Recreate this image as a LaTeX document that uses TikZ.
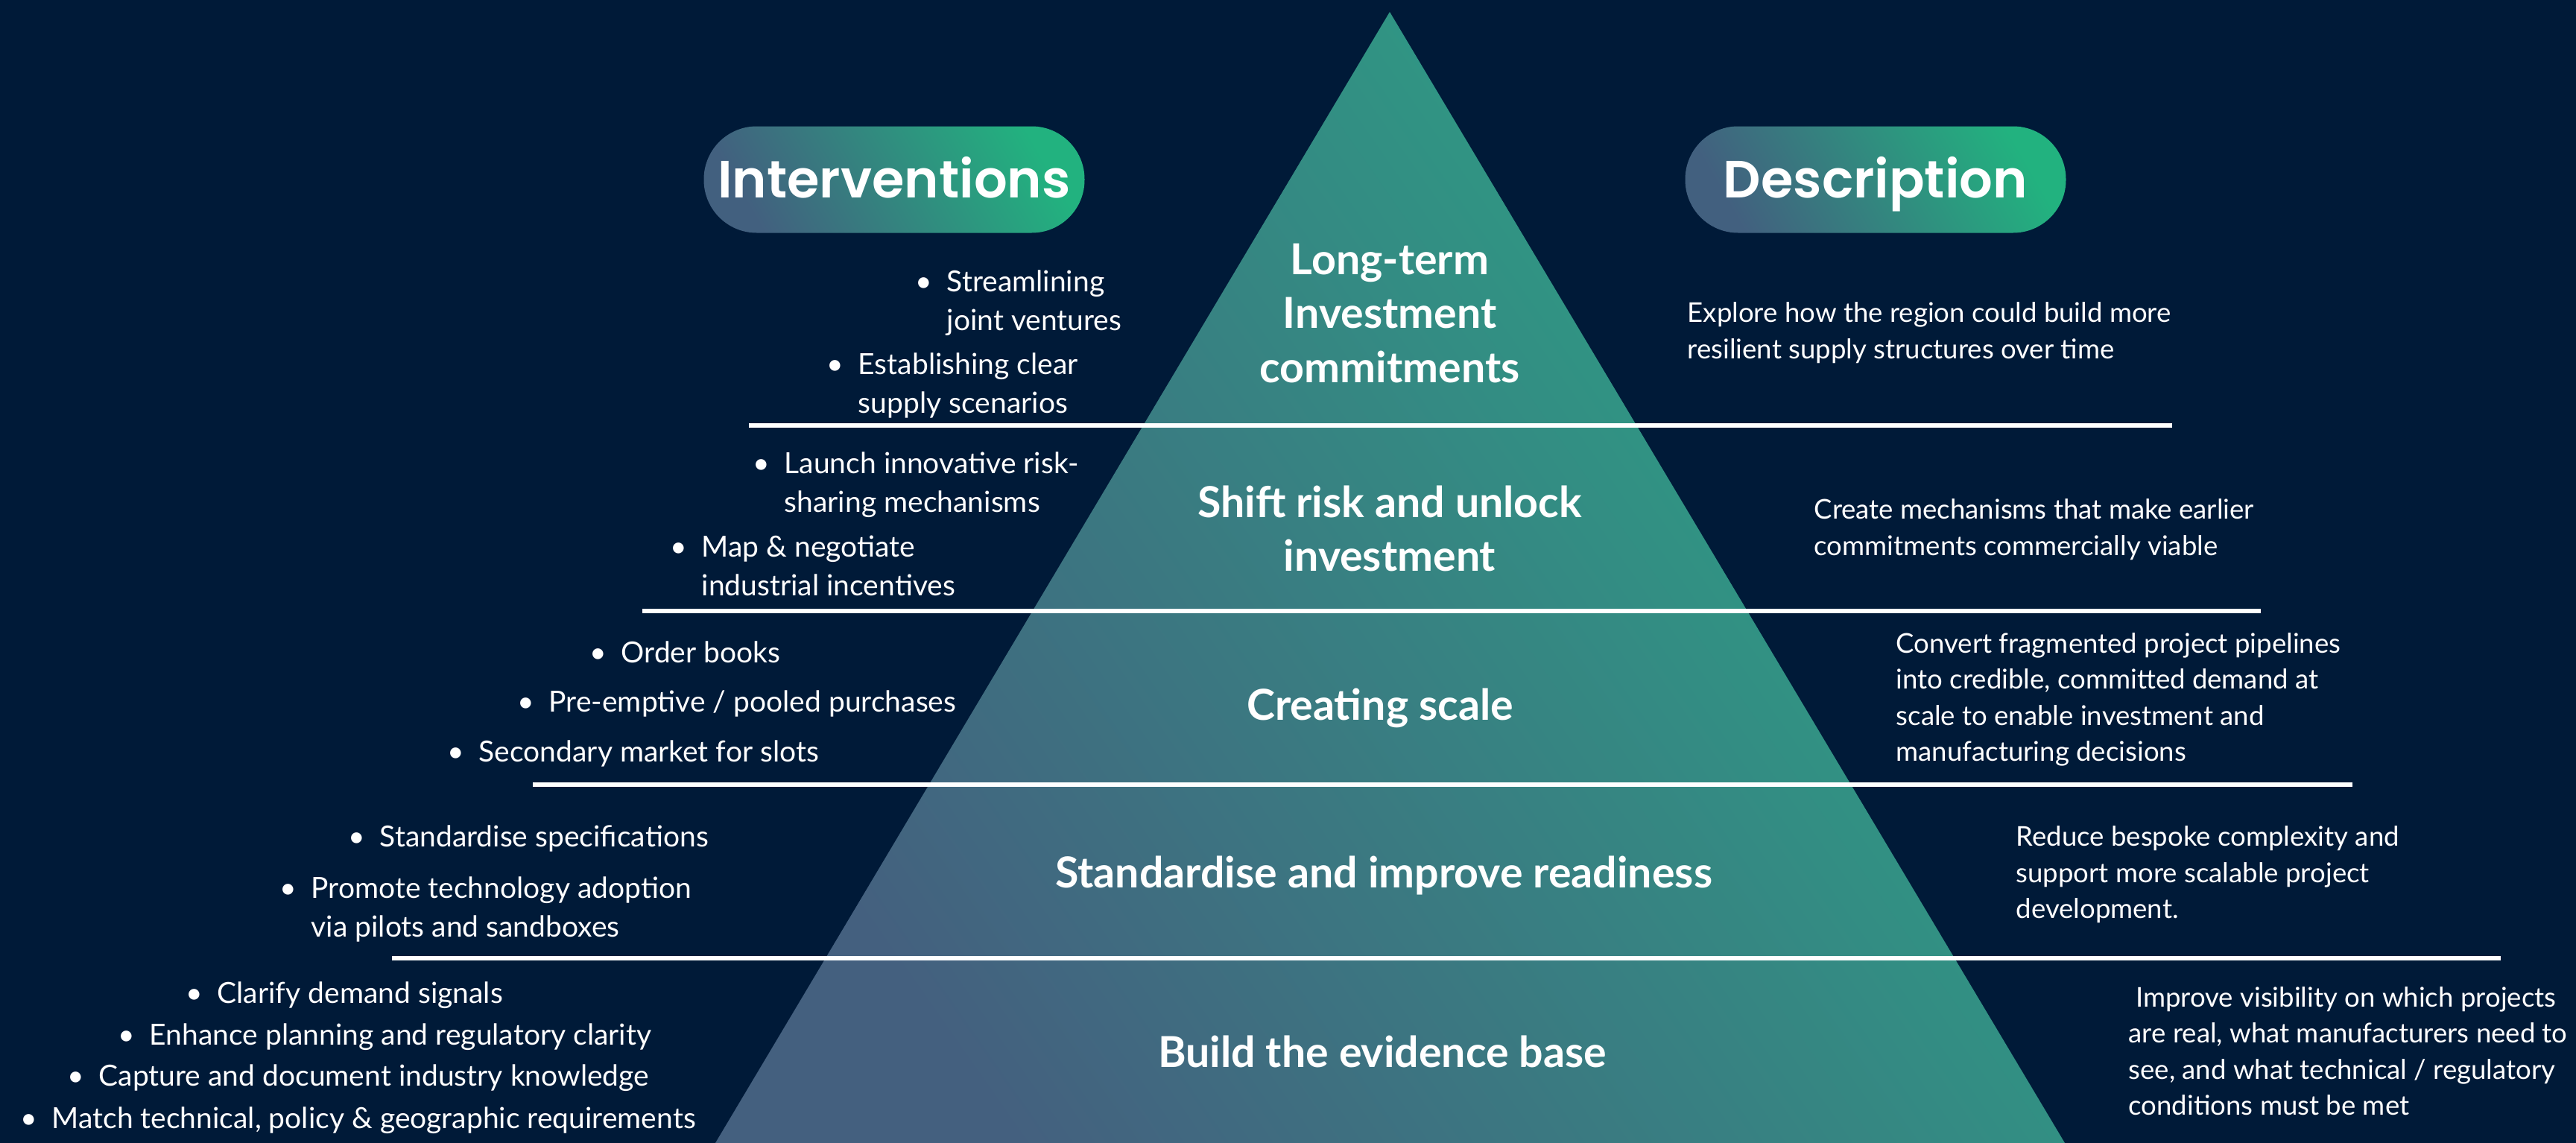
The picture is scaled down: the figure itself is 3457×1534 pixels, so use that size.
\documentclass[tikz,border=0pt]{standalone}
\usepackage{fontspec}
\setmainfont{Lato}
\newfontfamily\headfont{Poppins}[UprightFont={* SemiBold}]

\definecolor{navy}{HTML}{001A38}
\definecolor{pyrBlue}{HTML}{44607F}
\definecolor{pyrGreen}{HTML}{2AA585}
\definecolor{pillBlue}{HTML}{42607F}
\definecolor{pillGreen}{HTML}{22B27F}

% bullet hanging left of an intervention
\newcommand{\bul}{\llap{\textbullet\hspace{2mm}}}

\begin{document}
\begin{tikzpicture}[x=0.1mm, y=-0.1mm,
    item/.style={text=white, inner sep=0pt, anchor=west, align=left,
        font=\fontsize{11.1}{15}\selectfont,
        execute at begin node=\strut},
    descr/.style={text=white, inner sep=0pt, anchor=west, align=left,
        font=\fontsize{10.4}{13.8}\selectfont,
        execute at begin node=\strut},
    tier/.style={text=white, inner sep=0pt, align=center,
        font=\fontsize{16.3}{20.7}\selectfont\bfseries,
        execute at begin node=\strut},
    pill/.style={rounded corners=7.1mm, minimum width=51.1mm, minimum height=14.3mm,
        bottom color=pillBlue, top color=pillGreen, shading angle=-60,
        text height=14pt, text depth=0pt,
        text=white, font=\headfont\fontsize{20}{20}\selectfont},
    divider/.style={white, line width=0.55mm}]

    % Background
    \useasboundingbox (0,0) rectangle (3457,1534);
    \fill[navy] (0,0) rectangle (3457,1534);

    % Pyramid
    \coordinate (apex) at (1865,16);
    \coordinate (baseL) at (960,1534);
    \coordinate (baseR) at (2771,1534);
    \shade[bottom color=pyrBlue, top color=pyrGreen, shading angle=-55]
        (apex) -- (baseR) -- (baseL) -- cycle;

    % Dividers between the levels
    \foreach \y/\xa/\xb in {571/1005/2915, 820/862/3034, 1053/715/3157,
                            1286/526/3356, 1537/295/3365}
    {
        \draw[divider] (\xa,\y) -- (\xb,\y);
    }

    % Column headers
    \node[pill] (hint) at (1200,241) {Interventions};
    \node[pill] (hdesc) at (2517,241) {Description};

    % Levels of the pyramid
    \node[tier] (lvl1) at (1865,431) {Long-term\\Investment\\commitments};
    \node[tier] (lvl2) at (1865,720) {Shift risk and unlock\\investment};
    \node[tier] (lvl3) at (1852,952) {Creating scale};
    \node[tier] (lvl4) at (1857,1177) {Standardise and improve readiness};
    \node[tier] (lvl5) at (1855,1418) {Build the evidence base};

    % Interventions, level 1
    \node[item] (jv) at (1270,411) {\bul Streamlining\\joint ventures};
    \node[item] (scen) at (1151,522) {\bul Establishing clear\\supply scenarios};

    % Interventions, level 2
    \node[item] (risk) at (1052,655) {\bul Launch innovative risk-\\sharing mechanisms};
    \node[item] (incent) at (941,767) {\bul Map \& negotiate\\industrial incentives};

    % Interventions, level 3
    \node[item] (order) at (833,879) {\bul Order books};
    \node[item] (pooled) at (736,945) {\bul Pre-emptive / pooled purchases};
    \node[item] (slots) at (642,1012) {\bul Secondary market for slots};

    % Interventions, level 4
    \node[item] (spec) at (509,1126) {\bul Standardise specifications};
    \node[item] (pilot) at (417,1225) {\bul Promote technology adoption\\via pilots and sandboxes};

    % Interventions, level 5
    \node[item] (demand) at (291,1336) {\bul Clarify demand signals};
    \node[item] (plan) at (200,1392) {\bul Enhance planning and regulatory clarity};
    \node[item] (know) at (132,1447) {\bul Capture and document industry knowledge};
    \node[item] (match) at (69,1504) {\bul Match technical, policy \& geographic requirements};

    % Descriptions
    \node[descr] (d1) at (2264,451) {Explore how the region could build more\\resilient supply structures over time};
    \node[descr] (d2) at (2434,715) {Create mechanisms that make earlier\\commitments commercially viable};
    \node[descr] (d3) at (2544,943) {Convert fragmented project pipelines\\into credible, committed demand at\\scale to enable investment and\\manufacturing decisions};
    \node[descr] (d4) at (2705,1178) {Reduce bespoke complexity and\\support more scalable project\\development.};
    \node[descr] (d5) at (2856,1418) {\ Improve visibility on which projects\\are real, what manufacturers need to\\see, and what technical / regulatory\\conditions must be met};

\end{tikzpicture}
\end{document}
